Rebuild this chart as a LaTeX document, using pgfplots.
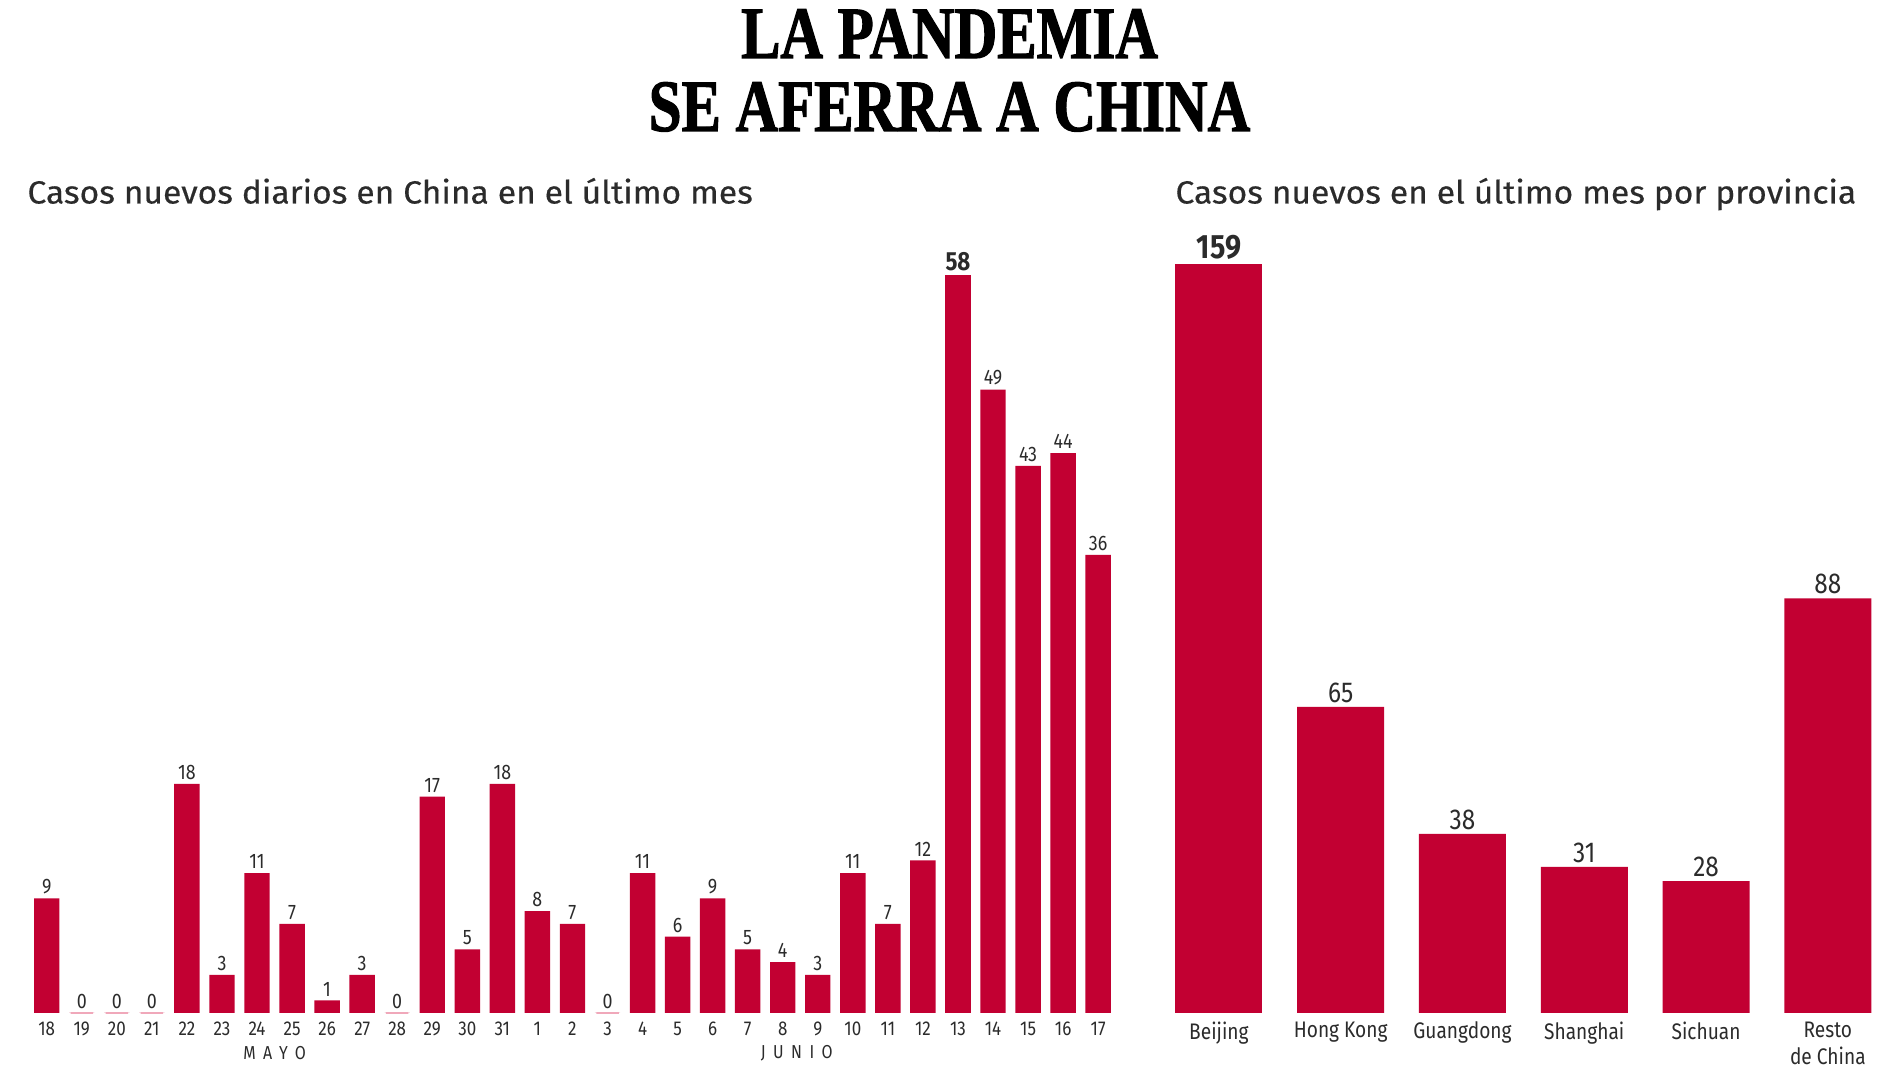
\documentclass[border=0pt]{standalone}
\usepackage{fontspec}
\usepackage{pgfplots}
\pgfplotsset{compat=1.18}
\setmainfont{Fira Sans}
\newfontfamily\cond[FakeStretch=0.85]{Fira Sans}
\newfontfamily\sub[FakeStretch=1.05,FakeBold=0.4]{Fira Sans}
\newfontfamily\titlefont[FakeStretch=0.8,FakeBold=1.5]{Liberation Serif}
\definecolor{crimson}{HTML}{C20032}
\definecolor{zeropink}{HTML}{F0A8BA}
\definecolor{txt}{HTML}{2B2B2B}
\begin{document}
\begin{tikzpicture}
\node[anchor=base, font=\titlefont\bfseries\fontsize{29.5}{30}\selectfont] at (379.8pt,404pt) {LA PANDEMIA};
\node[anchor=base, font=\titlefont\bfseries\fontsize{29.5}{30}\selectfont] at (379.8pt,374.8pt) {SE AFERRA A CHINA};
\node[anchor=base west, inner sep=0pt, font=\sub\fontsize{12.8}{14}\selectfont, text=txt] at (10.8pt,345.8pt) {Casos nuevos diarios en China en el último mes};
\node[anchor=base west, inner sep=0pt, font=\sub\fontsize{12.8}{14}\selectfont, text=txt] at (470pt,345.8pt) {Casos nuevos en el último mes por provincia};

\begin{axis}[at={(11.68pt,22pt)}, anchor=south west, scale only axis,
  width=434.6pt, height=295.2pt,
  xmin=-0.5, xmax=30.5, ymin=0, ymax=58,
  axis line style={draw=none}, ytick=\empty,
  xtick={0,...,30},
  xticklabels={18,19,20,21,22,23,24,25,26,27,28,29,30,31,1,2,3,4,5,6,7,8,9,10,11,12,13,14,15,16,17},
  major tick length=0,
  xticklabel style={font=\cond\fontsize{8}{8}\selectfont, text=txt},
  clip=false,
  /pgf/number format/assume math mode=true,
  every node near coord/.append style={font=\cond\fontsize{8.4}{9}\selectfont, text=txt, inner sep=1.5pt},
]
\addplot[ybar, bar width=10.16pt, fill=crimson, draw=none, nodes near coords] coordinates {
(0,9)(1,0)(2,0)(3,0)(4,18)(5,3)(6,11)(7,7)(8,1)(9,3)(10,0)(11,17)(12,5)(13,18)
(14,8)(15,7)(16,0)(17,11)(18,6)(19,9)(20,5)(21,4)(22,3)(23,11)(24,7)(25,12)
(27,49)(28,43)(29,44)(30,36)};
\addplot[ybar, bar width=10.16pt, fill=crimson, draw=none, nodes near coords,
  every node near coord/.append style={font=\cond\bfseries\fontsize{10.5}{11}\selectfont}] coordinates {(26,58)};
\addplot[ybar, bar width=9pt, draw=zeropink, line width=0.8pt, fill=none] coordinates {(1,0)(2,0)(3,0)(10,0)(16,0)};
\node[font=\cond\fontsize{7.5}{8}\selectfont, text=txt] at (axis cs:6.5,0) [yshift=-16pt] {\addfontfeatures{LetterSpace=40}MAYO};
\node[font=\cond\fontsize{7.5}{8}\selectfont, text=txt] at (axis cs:21.4,0) [yshift=-16pt] {\addfontfeatures{LetterSpace=40}JUNIO};
\end{axis}

\begin{axis}[at={(463.2pt,22pt)}, anchor=south west, scale only axis,
  width=292.3pt, height=299.6pt,
  xmin=-0.5, xmax=5.5, ymin=0, ymax=159,
  axis line style={draw=none}, ytick=\empty,
  xtick={0,...,5},
  xticklabels={Beijing,Hong Kong,Guangdong,Shanghai,Sichuan,{Resto\\de China}},
  major tick length=0,
  xticklabel style={font=\cond\fontsize{9}{11}\selectfont, text=txt, align=center},
  clip=false,
  /pgf/number format/assume math mode=true,
  every node near coord/.append style={font=\cond\fontsize{11.5}{12}\selectfont, text=txt, inner sep=1.5pt},
]
\addplot[ybar, bar width=34.8pt, fill=crimson, draw=none, nodes near coords] coordinates {
(1,65)(2,38)(3,31)(4,28)(5,88)};
\addplot[ybar, bar width=34.8pt, fill=crimson, draw=none, nodes near coords,
  every node near coord/.append style={font=\cond\bfseries\fontsize{13.5}{14}\selectfont}] coordinates {(0,159)};
\end{axis}
\pgfresetboundingbox
\path[use as bounding box] (0pt,0pt) rectangle (760pt,427.2pt);
\end{tikzpicture}
\end{document}
